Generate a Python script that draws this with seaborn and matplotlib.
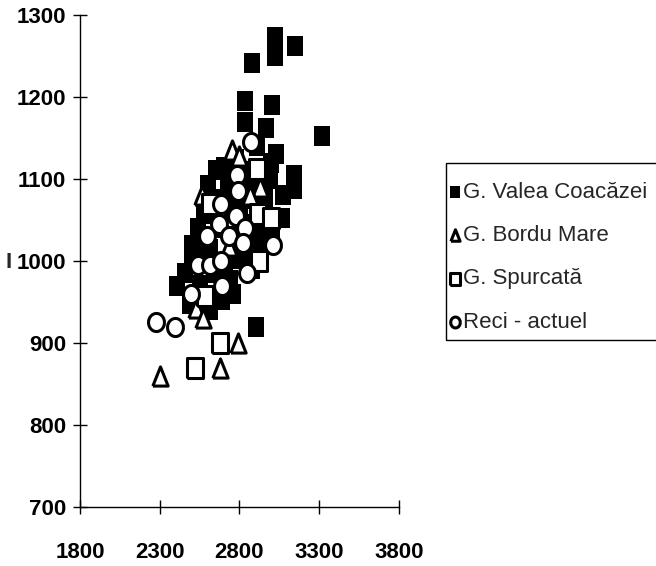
import matplotlib
matplotlib.use("Agg")
import matplotlib.pyplot as plt
from matplotlib.markers import MarkerStyle
from matplotlib.patches import Rectangle
import numpy as np
import seaborn as sns

# data
valea_x = [2880, 3020, 3020, 3145, 3320, 2835, 2835, 3005, 2965, 3030, 3140, 3140, 2650, 2605,
           2910, 3065, 3005, 2880, 2575, 2500, 2505, 2410, 2490, 2615, 2690, 2905, 2740, 2805,
           2930, 2960, 2865, 2730, 2775, 2680, 2615, 2710, 2555, 2895, 3075, 2805, 2540,
           2560, 2650, 2760, 2850, 2900, 2700, 2620, 2750, 2840, 2950, 2980, 2660, 2560, 2460,
           2760, 2700, 2790, 2860, 2990, 3000]
valea_y = [1242, 1273, 1250, 1262, 1152, 1195, 1170, 1190, 1162, 1130, 1105, 1088, 1111, 1093,
           1140, 1053, 1032, 990, 1057, 1020, 996, 970, 947, 940, 953, 920, 977, 1002,
           1026, 1075, 1093, 1093, 1124, 1040, 1015, 996, 971, 1075, 1081, 1057, 1040,
           1010, 985, 1030, 1020, 1045, 1075, 1060, 1060, 1110, 1110, 1050, 955, 945, 985,
           960, 1115, 1080, 1005, 1100, 1120]

bordu_x = [2750, 2800, 2930, 2565, 2865, 2735, 2525, 2570, 2790, 2680, 2300]
bordu_y = [1135, 1128, 1090, 1080, 1080, 1018, 943, 930, 900, 870, 860]

spurcata_x = [2615, 2915, 3000, 2920, 2585, 2910, 2675, 2520]
spurcata_y = [1070, 1057, 1052, 1000, 957, 1112, 900, 870]

reci_x = [2870, 2785, 2790, 2685, 2780, 2670, 2595, 2735, 2835, 2825, 3010, 2540, 2615, 2685,
          2845, 2690, 2495, 2275, 2395]
reci_y = [1145, 1105, 1085, 1070, 1055, 1045, 1030, 1030, 1040, 1022, 1020, 995, 995, 1000,
          985, 970, 960, 925, 920]

labels = ["G. Valea Coacăzei", "G. Bordu Mare", "G. Spurcată", "Reci - actuel"]
x_ticks = [1800, 2300, 2800, 3300, 3800]
y_ticks = [700, 800, 900, 1000, 1100, 1200, 1300]

sns.set_theme(style="white")
plt.rcParams["font.family"] = ["Liberation Sans Narrow", "Liberation Sans", "DejaVu Sans"]

# slightly tall symbols, like the scanned original
rect = MarkerStyle([(-0.85, -1), (0.85, -1), (0.85, 1), (-0.85, 1), (-0.85, -1)])
tri = MarkerStyle([(-0.8, -1), (0.8, -1), (0, 1), (-0.8, -1)])
t = np.linspace(0, 2 * np.pi, 40)
ell = MarkerStyle(list(zip(0.88 * np.cos(t), np.sin(t))))

fig = plt.figure(figsize=(6.56, 5.66), dpi=100)
ax = fig.add_axes([80 / 656, 59 / 566, 319 / 656, 492 / 566])

sns.scatterplot(x=valea_x, y=valea_y, marker=rect, s=200, color="black",
                edgecolor="black", linewidth=0, label=labels[0], ax=ax, zorder=2)
sns.scatterplot(x=bordu_x, y=bordu_y, marker=tri, s=190, color="white",
                edgecolor="black", linewidth=2.2, label=labels[1], ax=ax, zorder=3)
sns.scatterplot(x=spurcata_x, y=spurcata_y, marker=rect, s=190, color="white",
                edgecolor="black", linewidth=2.2, label=labels[2], ax=ax, zorder=3)
sns.scatterplot(x=reci_x, y=reci_y, marker=ell, s=170, color="white",
                edgecolor="black", linewidth=2.2, label=labels[3], ax=ax, zorder=4)

ax.set_xlim(1800, 3800)
ax.set_ylim(700, 1300)
ax.set_xticks(x_ticks)
ax.set_yticks(y_ticks)
ax.set_xlabel("")
ax.set_ylabel("")

for loc in ["top", "right"]:
    ax.spines[loc].set_visible(False)
for loc in ["left", "bottom"]:
    ax.spines[loc].set_color("black")
    ax.spines[loc].set_linewidth(1.0)

ax.tick_params(axis="both", bottom=True, left=True, direction="inout", length=10, width=1,
               color="black", labelsize=16, labelcolor="black")
ax.tick_params(axis="x", pad=20)
ax.tick_params(axis="y", pad=5)
for lab in ax.get_xticklabels() + ax.get_yticklabels():
    lab.set_fontweight("bold")

fig.text(9 / 656, 1 - 263 / 566, "I", ha="center", va="center", fontsize=16, fontweight="bold")

# legend without its own frame, box drawn separately so it runs off the right edge
leg = ax.legend(loc="upper left", bbox_to_anchor=(449 / 656, 1 - 182 / 566),
                bbox_transform=fig.transFigure, borderaxespad=0, borderpad=0,
                frameon=False, fontsize=16, markerscale=0.6,
                handlelength=0.5, handletextpad=0.15, labelspacing=1.0)
fig.patches.append(Rectangle((446 / 656, 1 - 340 / 566), 230 / 656, 177 / 566,
                             transform=fig.transFigure, fill=False, edgecolor="black",
                             linewidth=1.0))

fig.savefig("out.png", dpi=100)
